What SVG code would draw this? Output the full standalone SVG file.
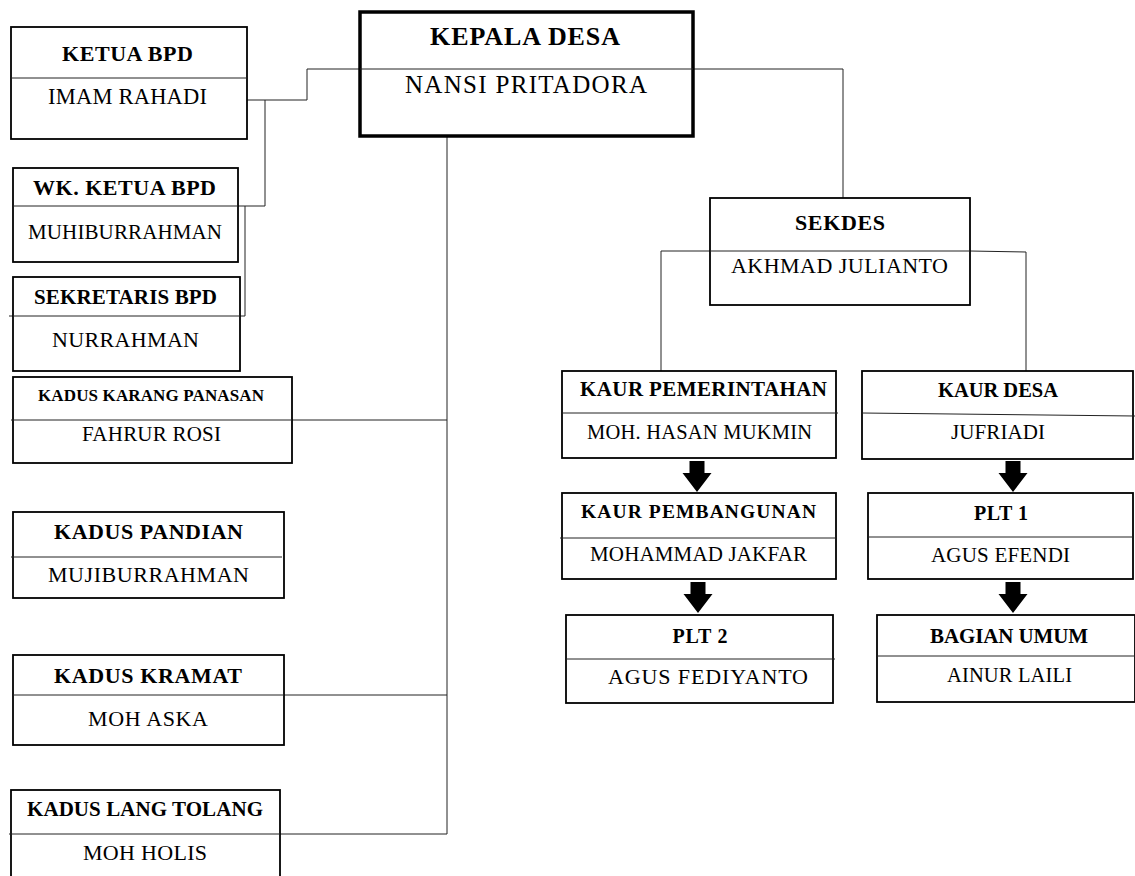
<svg xmlns="http://www.w3.org/2000/svg" width="1135" height="876" viewBox="0 0 1135 876">
<style>
.box{fill:#fff;stroke:#000;stroke-width:1.8}
.thick{stroke-width:3.5}
.div{stroke:#222;stroke-width:1;fill:none}
.conn{fill:none;stroke:#222;stroke-width:1}
.b{font-family:"Liberation Serif","Times New Roman",serif;font-weight:bold;text-anchor:middle;fill:#000}
.n{font-family:"Liberation Serif","Times New Roman",serif;font-weight:normal;text-anchor:middle;fill:#000}
.arr{fill:#000}
</style>
<defs>
<path id="arrow" d="M-7.5,0 H7.5 V12 H14.5 L0,31 L-14.5,12 H-7.5 Z"/>
</defs>
<rect width="1135" height="876" fill="#fff"/>

<g id="connectors">
<polyline class="conn" points="247,100 307,100 307,69 360,69"/>
<polyline class="conn" points="265,100 265,206 238,206"/>
<polyline class="conn" points="245,206 245,316 240,316"/>
<line class="conn" x1="9" y1="316" x2="13" y2="316"/>
<line class="conn" x1="447" y1="136" x2="447" y2="834"/>
<line class="conn" x1="292" y1="420" x2="447" y2="420"/>
<line class="conn" x1="284" y1="695" x2="447" y2="695"/>
<line class="conn" x1="280" y1="834" x2="447" y2="834"/>
<polyline class="conn" points="693,69 843,69 843,198"/>
<polyline class="conn" points="661,371 661,251 710,251"/>
<polyline class="conn" points="970,251 1026,252 1026,371"/>
<use href="#arrow" class="arr" x="697" y="461"/>
<use href="#arrow" class="arr" x="698" y="582"/>
<use href="#arrow" class="arr" x="1013" y="461"/>
<use href="#arrow" class="arr" x="1013" y="582"/>
</g>

<g id="kepala-desa">
<rect class="box thick" x="360" y="12" width="333" height="124"/>
<line class="div" x1="360" y1="69" x2="693" y2="69"/>
<text class="b" x="525" y="45" font-size="26" textLength="190" lengthAdjust="spacing">KEPALA DESA</text>
<text class="n" x="526" y="93" font-size="25" textLength="242" lengthAdjust="spacing">NANSI PRITADORA</text>
</g>

<g id="ketua-bpd">
<rect class="box" x="11" y="27" width="236" height="112"/>
<line class="div" x1="11" y1="78" x2="247" y2="78"/>
<text class="b" x="127.5" y="61" font-size="22" textLength="131" lengthAdjust="spacing">KETUA BPD</text>
<text class="n" x="127.5" y="104" font-size="22.5" textLength="159" lengthAdjust="spacing">IMAM RAHADI</text>
</g>

<g id="wk-ketua-bpd">
<rect class="box" x="13" y="168" width="225" height="94"/>
<line class="div" x1="13" y1="206" x2="238" y2="206"/>
<text class="b" x="124.5" y="195" font-size="22" textLength="183" lengthAdjust="spacing">WK. KETUA BPD</text>
<text class="n" x="125" y="239" font-size="21" textLength="194" lengthAdjust="spacing">MUHIBURRAHMAN</text>
</g>

<g id="sekretaris-bpd">
<rect class="box" x="13" y="277" width="227" height="94"/>
<line class="div" x1="13" y1="316" x2="240" y2="316"/>
<text class="b" x="125.5" y="304" font-size="21" textLength="183" lengthAdjust="spacing">SEKRETARIS BPD</text>
<text class="n" x="125.5" y="347" font-size="22" textLength="147" lengthAdjust="spacing">NURRAHMAN</text>
</g>

<g id="kadus-karang-panasan">
<rect class="box" x="13" y="377" width="279" height="86"/>
<line class="div" x1="11" y1="420" x2="292" y2="420"/>
<text class="b" x="151" y="401" font-size="17" textLength="226" lengthAdjust="spacing">KADUS KARANG PANASAN</text>
<text class="n" x="151.5" y="441" font-size="21" textLength="139" lengthAdjust="spacing">FAHRUR ROSI</text>
</g>

<g id="kadus-pandian">
<rect class="box" x="13" y="512" width="271" height="86"/>
<line class="div" x1="11" y1="557" x2="282" y2="557"/>
<text class="b" x="148.5" y="539" font-size="22" textLength="189" lengthAdjust="spacing">KADUS PANDIAN</text>
<text class="n" x="148.5" y="582" font-size="22" textLength="201" lengthAdjust="spacing">MUJIBURRAHMAN</text>
</g>

<g id="kadus-kramat">
<rect class="box" x="13" y="655" width="271" height="90"/>
<line class="div" x1="13" y1="695" x2="284" y2="695"/>
<text class="b" x="148" y="683" font-size="22" textLength="188" lengthAdjust="spacing">KADUS KRAMAT</text>
<text class="n" x="148" y="726" font-size="22" textLength="120" lengthAdjust="spacing">MOH ASKA</text>
</g>

<g id="kadus-lang-tolang">
<rect class="box" x="11" y="790" width="269" height="100"/>
<line class="div" x1="9" y1="834" x2="280" y2="834"/>
<text class="b" x="145" y="816" font-size="21" textLength="236" lengthAdjust="spacing">KADUS LANG TOLANG</text>
<text class="n" x="145" y="860" font-size="22" textLength="124" lengthAdjust="spacing">MOH HOLIS</text>
</g>

<g id="sekdes">
<rect class="box" x="710" y="198" width="260" height="107"/>
<line class="div" x1="710" y1="251" x2="970" y2="251"/>
<text class="b" x="840" y="230" font-size="22" textLength="90" lengthAdjust="spacing">SEKDES</text>
<text class="n" x="839.5" y="273" font-size="22" textLength="217" lengthAdjust="spacing">AKHMAD JULIANTO</text>
</g>

<g id="kaur-pemerintahan">
<rect class="box" x="562" y="371" width="274" height="87"/>
<line class="div" x1="562" y1="413" x2="838" y2="413"/>
<text class="b" x="703.5" y="396" font-size="21" textLength="247" lengthAdjust="spacing">KAUR PEMERINTAHAN</text>
<text class="n" x="699.5" y="439" font-size="20.5" textLength="225" lengthAdjust="spacing">MOH. HASAN MUKMIN</text>
</g>

<g id="kaur-pembangunan">
<rect class="box" x="562" y="493" width="274" height="86"/>
<line class="div" x1="560" y1="538" x2="836" y2="538"/>
<text class="b" x="698.5" y="518" font-size="19.5" textLength="235" lengthAdjust="spacing">KAUR PEMBANGUNAN</text>
<text class="n" x="698.5" y="561" font-size="21" textLength="217" lengthAdjust="spacing">MOHAMMAD JAKFAR</text>
</g>

<g id="plt-2">
<rect class="box" x="566" y="615" width="267" height="88"/>
<line class="div" x1="566" y1="659" x2="835" y2="659"/>
<text class="b" x="700" y="643" font-size="20" textLength="55" lengthAdjust="spacing">PLT 2</text>
<text class="n" x="708" y="684" font-size="22" textLength="200" lengthAdjust="spacing">AGUS FEDIYANTO</text>
</g>

<g id="kaur-desa">
<rect class="box" x="862" y="371" width="271" height="88"/>
<line class="div" x1="862" y1="413" x2="1135" y2="416"/>
<text class="b" x="998" y="397" font-size="20.5" textLength="120" lengthAdjust="spacing">KAUR DESA</text>
<text class="n" x="998" y="439" font-size="21" textLength="94" lengthAdjust="spacing">JUFRIADI</text>
</g>

<g id="plt-1">
<rect class="box" x="868" y="493" width="265" height="86"/>
<line class="div" x1="868" y1="537" x2="1133" y2="537"/>
<text class="b" x="1001" y="520" font-size="20" textLength="54" lengthAdjust="spacing">PLT 1</text>
<text class="n" x="1000.5" y="562" font-size="21" textLength="139" lengthAdjust="spacing">AGUS EFENDI</text>
</g>

<g id="bagian-umum">
<rect class="box" x="877" y="615" width="258" height="87"/>
<line class="div" x1="877" y1="656" x2="1135" y2="656"/>
<text class="b" x="1009" y="643" font-size="21" textLength="158" lengthAdjust="spacing">BAGIAN UMUM</text>
<text class="n" x="1009.5" y="682" font-size="20.5" textLength="125" lengthAdjust="spacing">AINUR LAILI</text>
</g>
</svg>
